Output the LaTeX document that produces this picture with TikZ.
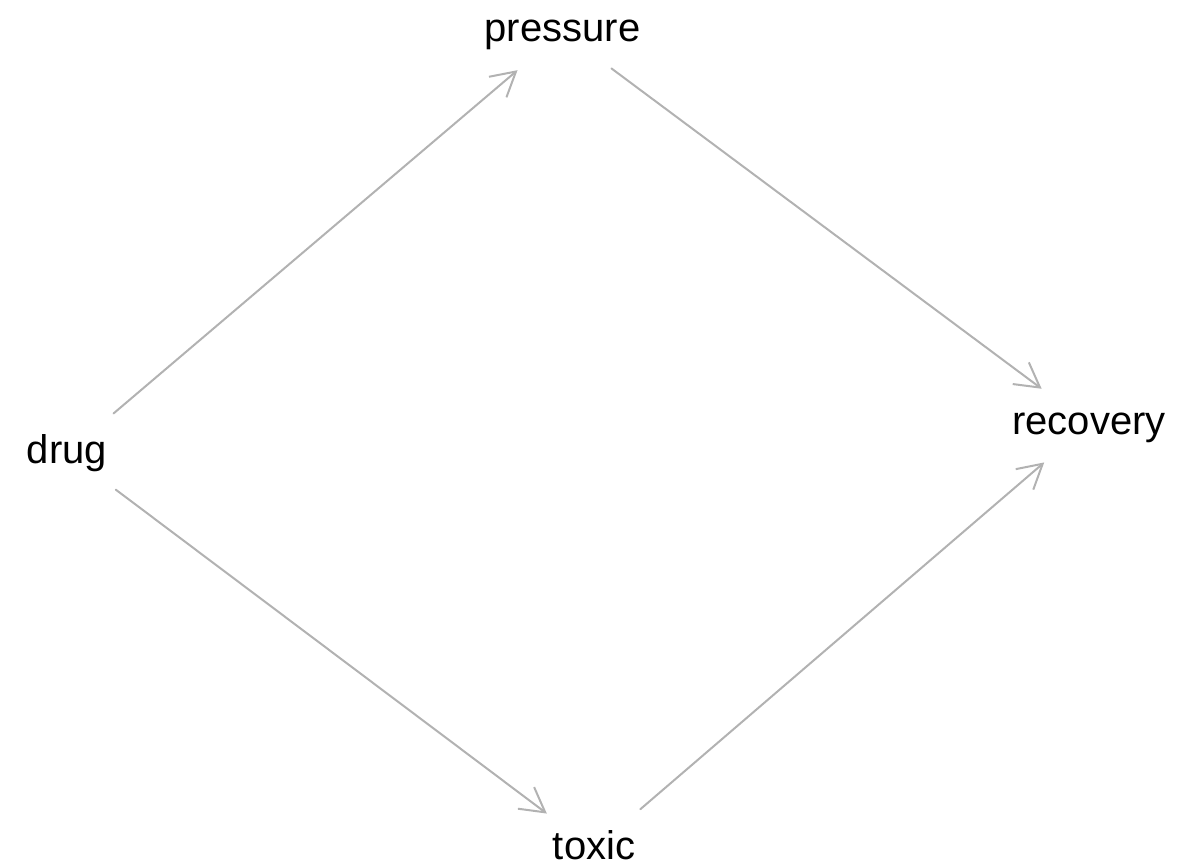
\documentclass[tikz,border=0pt]{standalone}
\usepackage{fontspec}
\setmainfont{Liberation Sans}
\usetikzlibrary{arrows.meta}
\begin{document}
\begin{tikzpicture}[x=1pt,y=-1pt,
  var/.style={font=\fontsize{40}{48}\selectfont,text=black,inner sep=0,text height=28pt,text depth=8pt},
  edge/.style={draw=black!30,line width=2pt,line cap=round,-{Straight Barb[length=24pt,width=27pt,line width=2pt]},shorten <=61pt,shorten >=59pt}]
  \useasboundingbox (0,0) rectangle (1203,867);
  \node[var] (drug) at (67,453) {drug};
  \node[var] (pressure) at (562.5,32) {pressure};
  \node[var] (toxic) at (594,849) {toxic};
  \node[var] (recovery) at (1089,424) {recovery};
  \draw[edge] (drug.center) -- (pressure.center);
  \draw[edge] (pressure.center) -- (recovery.center);
  \draw[edge] (drug.center) -- (toxic.center);
  \draw[edge] (toxic.center) -- (recovery.center);
\end{tikzpicture}
\end{document}
